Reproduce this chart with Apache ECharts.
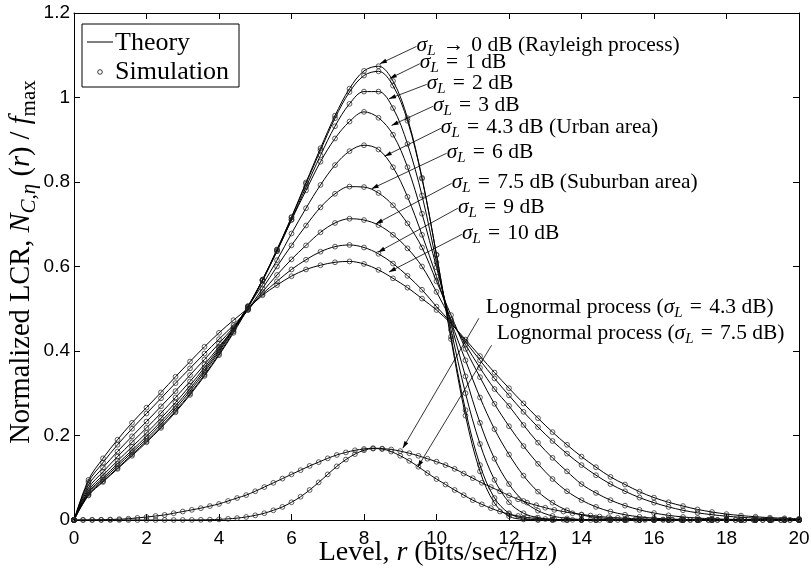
<!DOCTYPE html>
<html><head><meta charset="utf-8">
<script src="https://cdn.jsdelivr.net/npm/echarts@6/dist/echarts.min.js"></script>
<style>html,body{margin:0;padding:0;background:#fff}#c{width:811px;height:573px}</style>
</head><body><div id="c"></div>
<script>
// ---------------- data ----------------
const levelGrid = [0,0.4,0.8,1.2,1.6,2,2.4,2.8,3.2,3.6,4,4.4,4.8,5.2,5.6,6,6.4,6.8,7.2,7.6,8,8.4,8.8,9.2,9.6,10,10.4,10.8,11.2,11.6,12,12.4,12.8,13.2,13.6,14,14.4,14.8,15.2,15.6,16,16.4,16.8,17.2,17.6,18,18.4,18.8,19.2,19.6,20];
const lcrSigma0  = [0,.058,.090,.121,.152,.184,.218,.255,.296,.341,.390,.443,.502,.568,.640,.717,.799,.880,.957,1.021,1.063,1.074,1.039,.951,.810,.627,.428,.247,.115,.040,.009,.0014,.0001,0,0,0,0,0,0,0,0,0,0,0,0,0,0,0,0,0,0];
const lcrSigma1  = [0,.060,.092,.123,.155,.187,.221,.258,.299,.344,.393,.446,.504,.569,.640,.716,.796,.875,.951,1.013,1.052,1.062,1.028,.945,.808,.628,.434,.260,.130,.052,.016,.004,.0008,.0001,0,0,0,0,0,0,0,0,0,0,0,0,0,0,0,0,0];
const lcrSigma2  = [0,.063,.096,.128,.160,.192,.227,.264,.305,.350,.398,.450,.506,.568,.636,.711,.788,.863,.932,.985,1.014,1.014,.975,.890,.768,.610,.450,.300,.180,.095,.042,.016,.0055,.0016,.0004,.0001,0,0,0,0,0,0,0,0,0,0,0,0,0,0,0];
const lcrSigma3  = [0,.066,.100,.133,.165,.198,.233,.270,.311,.355,.402,.452,.506,.566,.637,.710,.780,.848,.903,.943,.966,.952,.912,.835,.725,.598,.465,.340,.230,.145,.085,.045,.022,.0095,.0037,.0013,.0004,.0001,0,0,0,0,0,0,0,0,0,0,0,0,0];
const lcrSigma43 = [0,.070,.106,.140,.173,.206,.241,.278,.318,.361,.406,.454,.505,.557,.615,.678,.738,.793,.840,.873,.887,.877,.835,.765,.675,.576,.470,.378,.290,.215,.155,.105,.067,.041,.023,.012,.0062,.003,.0014,.0006,.0003,.0001,0,0,0,0,0,0,0,0,0];
const lcrSigma6  = [0,.076,.114,.150,.184,.218,.253,.290,.328,.368,.410,.452,.498,.548,.600,.650,.697,.740,.772,.789,.788,.774,.745,.702,.645,.565,.485,.405,.338,.275,.222,.175,.133,.097,.068,.047,.031,.020,.0125,.0075,.0043,.0024,.0013,.0007,.0004,.0002,.0001,0,0,0,0];
const lcrSigma75 = [0,.083,.124,.162,.198,.233,.269,.305,.343,.380,.418,.456,.497,.540,.580,.617,.650,.681,.703,.713,.710,.698,.675,.643,.600,.540,.475,.415,.360,.310,.270,.225,.183,.147,.115,.085,.064,.047,.034,.024,.0165,.011,.0072,.0046,.0029,.0018,.0011,.0006,.0004,.0002,.0001];
const lcrSigma9  = [0,.090,.136,.178,.216,.252,.288,.324,.359,.394,.428,.461,.498,.535,.565,.593,.616,.635,.647,.651,.645,.630,.607,.578,.545,.505,.467,.422,.378,.335,.295,.256,.220,.187,.157,.130,.106,.085,.068,.053,.041,.031,.023,.017,.0125,.009,.0064,.0045,.0031,.0021,.0014];
const lcrSigma10 = [0,.095,.146,.190,.230,.266,.302,.339,.375,.410,.443,.473,.501,.532,.556,.577,.593,.603,.610,.612,.606,.592,.572,.550,.524,.497,.465,.427,.388,.349,.312,.276,.241,.208,.178,.150,.125,.102,.084,.067,.053,.042,.033,.025,.019,.014,.0105,.0077,.0056,.004,.0029];

const logGrid = [0,0.25,0.5,0.75,1,1.25,1.5,1.75,2,2.25,2.5,2.75,3,3.25,3.5,3.75,4,4.25,4.5,4.75,5,5.25,5.5,5.75,6,6.25,6.5,6.75,7,7.25,7.5,7.75,8,8.25,8.5,8.75,9,9.25,9.5,9.75,10,10.25,10.5,10.75,11,11.25,11.5,11.75,12,12.25,12.5,12.75,13,13.25,13.5,13.75,14,14.25,14.5,14.75,15,15.25,15.5,15.75,16,16.25,16.5,16.75,17,17.25,17.5,17.75,18,18.25,18.5,18.75,19,19.25,19.5,19.75,20];
const lognormal75 = [0,.0001,.0003,.0006,.0012,.002,.003,.005,.007,.0095,.012,.016,.020,.024,.028,.033,.038,.045,.052,.059,.068,.078,.088,.098,.108,.118,.128,.137,.146,.154,.160,.165,.168,.170,.169,.167,.163,.158,.152,.145,.138,.130,.121,.110,.099,.088,.078,.068,.058,.049,.041,.035,.029,.024,.020,.016,.013,.0105,.0082,.0064,.005,.0038,.0029,.0022,.0016,.0012,.0009,.0006,.0004,.0003,.0002,.0001,.0001,0,0,0,0,0,0,0,0];
const lognormal43 = [0,0,0,0,0,0,0,0,0,0,0,0,.0001,.0002,.0004,.0008,.0015,.0027,.0045,.0072,.011,.016,.023,.031,.042,.055,.071,.089,.108,.127,.143,.156,.165,.169,.168,.162,.152,.140,.126,.111,.097,.084,.071,.059,.047,.037,.028,.020,.014,.0095,.006,.0038,.0023,.0013,.0007,.0004,.0002,.0001,0,0,0,0,0,0,0,0,0,0,0,0,0,0,0,0,0,0,0,0,0,0,0];

const xTicks = {min:0, max:20, step:2};
const yTicks = {min:0, max:1.2, step:0.2};

const curves = [
  {grid: levelGrid, y: lcrSigma0}, {grid: levelGrid, y: lcrSigma1}, {grid: levelGrid, y: lcrSigma2},
  {grid: levelGrid, y: lcrSigma3}, {grid: levelGrid, y: lcrSigma43}, {grid: levelGrid, y: lcrSigma6},
  {grid: levelGrid, y: lcrSigma75}, {grid: levelGrid, y: lcrSigma9}, {grid: levelGrid, y: lcrSigma10},
  {grid: logGrid, y: lognormal43}, {grid: logGrid, y: lognormal75}
];

// annotation texts (segments) and anchors in data coordinates
const SP = '\u2004';
const SIG = [{t:'σ',it:1},{t:'L',it:1,sub:1}];
const EQ = SP + '=' + SP;
const annotations = [
  {segs:[...SIG,{t:SP+'→'+SP+'0 dB (Rayleigh process)'}], start:[9.45,1.121], tip:[8.44,1.08]},
  {segs:[...SIG,{t:EQ+'1 dB'}], start:[9.54,1.08], tip:[8.71,1.045]},
  {segs:[...SIG,{t:EQ+'2 dB'}], start:[9.73,1.031], tip:[8.69,0.997]},
  {segs:[...SIG,{t:EQ+'3 dB'}], start:[9.90,0.979], tip:[8.76,0.934]},
  {segs:[...SIG,{t:EQ+'4.3 dB (Urban area)'}], start:[10.12,0.927], tip:[8.57,0.861]},
  {segs:[...SIG,{t:EQ+'6 dB'}], start:[10.28,0.868], tip:[8.21,0.784]},
  {segs:[...SIG,{t:EQ+'7.5 dB (Suburban area)'}], start:[10.42,0.797], tip:[8.33,0.701]},
  {segs:[...SIG,{t:EQ+'9 dB'}], start:[10.59,0.738], tip:[8.39,0.634]},
  {segs:[...SIG,{t:EQ+'10 dB'}], start:[10.70,0.676], tip:[8.69,0.587]},
  {segs:[{t:'Lognormal process ('},...SIG,{t:EQ+'4.3 dB)'}], start:[11.17,0.4775], tip:[9.07,0.170], text:[11.36,0.5035]},
  {segs:[{t:'Lognormal process ('},...SIG,{t:EQ+'7.5 dB)'}], start:[11.52,0.4137], tip:[9.48,0.125], text:[11.66,0.442]}
];

// ---------------- chart ----------------
const SERIF = '"Liberation Serif", "Times New Roman", serif';
const SANS = '"Liberation Sans", Arial, sans-serif';
const chart = echarts.init(document.getElementById('c'), null, {renderer:'canvas'});

const series = [];
curves.forEach((c, k) => {
  const pts = c.grid.map((x, i) => [x, c.y[i]]);
  series.push({type:'line', data: pts, smooth: 0.35, showSymbol:false, symbol:'none',
    lineStyle:{color:'#000', width:1}, z:2, silent:true, animation:false});
  series.push({type:'scatter', data: pts, symbol:'circle', symbolSize:4.8,
    itemStyle:{color:'rgba(255,255,255,0)', borderColor:'#222', borderWidth:0.9}, z:3, silent:true, animation:false});
});

function axisCommon(show, margin) {
  return {
    axisLine:{show:true, onZero:false, lineStyle:{color:'#000', width:1}},
    axisTick:{show:true, inside:true, length:6, lineStyle:{color:'#000', width:1}},
    splitLine:{show:false},
    axisLabel: show ? {show:true, color:'#000', fontSize:19, fontFamily:SANS, margin:margin, showMinLabel:true, showMaxLabel:true, hideOverlap:false} : {show:false}
  };
}

chart.setOption({
  animation:false,
  backgroundColor:'#fff',
  grid:{left:74, right:12, top:13, bottom:53, containLabel:false, outerBoundsMode:'none'},
  xAxis:[
    Object.assign({type:'value', min:xTicks.min, max:xTicks.max, interval:xTicks.step, position:'bottom'}, axisCommon(true, 9)),
    Object.assign({type:'value', min:xTicks.min, max:xTicks.max, interval:xTicks.step, position:'top'}, axisCommon(false))
  ],
  yAxis:[
    Object.assign({type:'value', min:yTicks.min, max:yTicks.max, interval:yTicks.step, position:'left'}, axisCommon(true, 4)),
    Object.assign({type:'value', min:yTicks.min, max:yTicks.max, interval:yTicks.step, position:'right'}, axisCommon(false))
  ],
  series
});

// ---------------- text helpers ----------------
const mctx = document.createElement('canvas').getContext('2d');
function layoutSegs(segs, base, family) {
  let cx = 0; const out = [];
  for (const s of segs) {
    const size = s.sub ? Math.round(base*0.72) : base;
    const font = (s.it ? 'italic ' : '') + size + 'px ' + family;
    mctx.font = font;
    const w = mctx.measureText(s.t).width;
    out.push({t:s.t, font, dx:cx, dy: s.sub ? base*0.27 : 0});
    cx += w;
  }
  return {items: out, width: cx};
}
function textEls(segs, base, family, anchor, z) {
  const L = layoutSegs(segs, base, family);
  const off = anchor === 'center' ? -L.width/2 : 0;
  return L.items.map(it => ({type:'text', x: off + it.dx, y: it.dy, silent:true, z: z || 5,
    style:{text: it.t, font: it.font, fill:'#000', align:'left', verticalAlign:'middle'}}));
}
function arrowEls(p0, p1, head) {
  const els = [{type:'line', silent:true, z:5, shape:{x1:p0[0], y1:p0[1], x2:p1[0], y2:p1[1]}, style:{stroke:'#000', lineWidth:0.8}}];
  if (head) {
    const dx = p1[0]-p0[0], dy = p1[1]-p0[1], len = Math.hypot(dx,dy);
    const ux = dx/len, uy = dy/len, hl = 7, hw = 2.2;
    const bx = p1[0]-ux*hl, by = p1[1]-uy*hl;
    els.push({type:'polygon', silent:true, z:5, shape:{points:[[p1[0],p1[1]],[bx-uy*hw, by+ux*hw],[bx+uy*hw, by-ux*hw]]}, style:{fill:'#000'}});
  }
  return els;
}

const graphics = [];
annotations.forEach((a, i) => {
  const ps = chart.convertToPixel({gridIndex:0}, a.start);
  const pt = chart.convertToPixel({gridIndex:0}, a.tip);
  arrowEls(ps, pt, true).forEach(e => graphics.push(e));
  const tp = a.text ? chart.convertToPixel({gridIndex:0}, a.text) : [ps[0], ps[1]-1];
  graphics.push({type:'group', x: tp[0], y: tp[1], children: textEls(a.segs, 21.5, SERIF, 'left', 5)});
});

// legend box
graphics.push({type:'rect', silent:true, shape:{x:82, y:24, width:157, height:63}, style:{fill:'#fff', stroke:'#000', lineWidth:1}, z:10});
graphics.push({type:'line', silent:true, shape:{x1:87, y1:42, x2:113, y2:42}, style:{stroke:'#000', lineWidth:1}, z:11});
graphics.push({type:'circle', silent:true, shape:{cx:100, cy:72, r:2.3}, style:{fill:'none', stroke:'#222', lineWidth:0.9}, z:11});
graphics.push({type:'group', x:115, y:43, children: textEls([{t:'Theory'}], 26, SERIF, 'left', 12)});
graphics.push({type:'group', x:115, y:72, children: textEls([{t:'Simulation'}], 26, SERIF, 'left', 12)});

// axis titles
graphics.push({type:'group', x:438, y:553, children: textEls([{t:'Level, '},{t:'r',it:1},{t:' (bits/sec/Hz)'}], 28, SERIF, 'center', 5)});
graphics.push({type:'group', x:22, y:262, rotation:Math.PI/2, children: textEls([
  {t:'Normalized LCR, '},{t:'N',it:1},{t:'C,η',it:1,sub:1},{t:' ('},{t:'r',it:1},{t:') / '},{t:'f',it:1},{t:'max',sub:1}
], 28.5, SERIF, 'center', 5)});

chart.setOption({graphic: graphics});
</script>
</body></html>
